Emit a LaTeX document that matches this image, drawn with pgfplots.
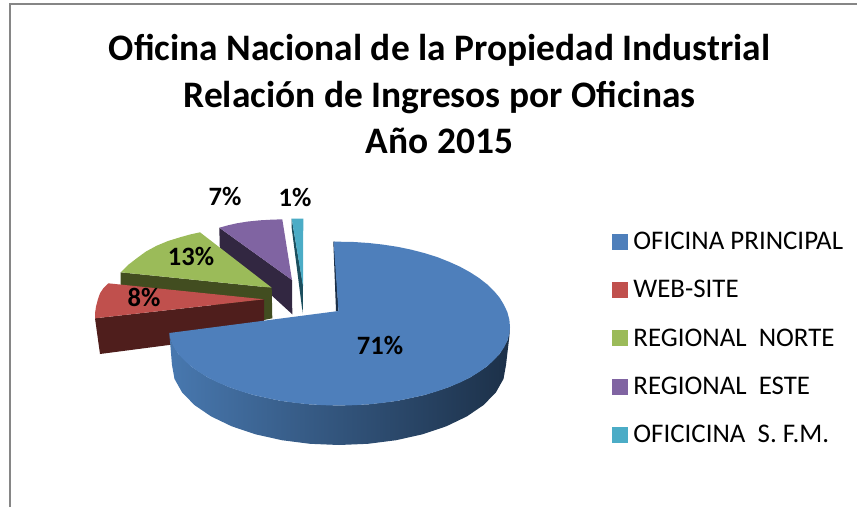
\documentclass[border=0pt]{standalone}
\usepackage{pgfplots}
\pgfplotsset{compat=1.18}
\usepackage{fontspec}
\setmainfont{Carlito}
\definecolor{cblue}{HTML}{4E7FBB}
\definecolor{cred}{HTML}{C0504D}
\definecolor{cgreen}{HTML}{9BBB59}
\definecolor{cpurple}{HTML}{8064A2}
\definecolor{ccyan}{HTML}{4BACC6}
\definecolor{dred}{HTML}{4F1E1C}
\definecolor{dgreen}{HTML}{424D20}
\definecolor{dpurple}{HTML}{322741}
\definecolor{dcyan}{HTML}{1C4F5E}
\definecolor{dblue}{HTML}{1C3048}
\definecolor{sideL}{HTML}{4878AF}
\definecolor{sideM}{HTML}{34567F}
\definecolor{frame}{HTML}{868686}
\begin{document}
\begin{tikzpicture}
\path[use as bounding box] (0,0) rectangle (857pt,507pt);
\begin{axis}[
  width=857pt, height=507pt, scale only axis,
  xmin=0, xmax=857, ymin=0, ymax=507, y dir=reverse,
  axis lines=none, clip=true,
  legend cell align=left,
  legend style={at={(axis cs:612,230)}, anchor=north west, draw=none, fill=none,
    font=\fontsize{26.9}{30}\selectfont, row sep=25.4pt, inner sep=0pt, outer sep=0pt,
    /tikz/every odd column/.style={column sep=4pt}},
  legend image code/.code={\fill[#1] (6pt,-7.5pt) rectangle (21pt,7.5pt);},
]
% frame
\addplot[frame, line width=1.6pt, forget plot] coordinates {(10,507) (10,4) (857,4)};
% cyan
\addplot[fill=dcyan, draw=none, forget plot] coordinates {(291.7,218.7) (291.7,228) (302.7,313.5) (303,285)} -- cycle;
\addplot[fill=ccyan, draw=none, forget plot] coordinates {(291.7,218.7) (303.3,218.7) (303,286)} -- cycle;
% purple
\addplot[fill=dpurple, draw=none, forget plot] coordinates {(219.3,227.7) (219.8,248) (292.3,314.3) (292,280)} -- cycle;
\addplot[fill=cpurple, draw=none, forget plot] coordinates {(219.3,227.7) (228,225.3) (236.7,223.3) (248,221.5) (260,220.3) (271,219.7) (282.3,219.3) (292,280)} -- cycle;
% green
\addplot[fill=dgreen, draw=none, forget plot] coordinates {(120.7,272.3) (120.7,285) (200,300) (264,320) (272.3,318.3) (271.7,287.7)} -- cycle;
\addplot[fill=cgreen, draw=none, forget plot] coordinates {(120.7,272.3) (128,265) (136.7,258.3) (146,251.5) (156.7,245.7) (168,241) (180,237.3) (190,234.5) (200,232.3) (271.7,287.7)} -- cycle;
% red
\addplot[fill=dred, draw=none, forget plot] coordinates {(95,318.3) (100,354) (169,345) (264,335) (264,299.3)} -- cycle;
\addplot[fill=cred, draw=none, forget plot] coordinates {(108.3,283.3) (103.5,288) (100,293.3) (97.7,300) (96,306.7) (95.2,312) (95,318.3) (264,299.3)} -- cycle;
% blue side
\addplot[shade, shading=axis, left color=sideL, middle color=sideM, right color=dblue, shading angle=90, draw=none, forget plot] coordinates {
 (169.3,333) (170.6,340.6) (178.3,353.8) (190.9,366.3) (208,377.5) (229.1,387.1) (253.5,395) (280.5,400.8) (309.3,404.3) (339,405.5)
 (368.7,404.3) (397.5,400.8) (424.5,395) (448.9,387.1) (470,377.5) (487.1,366.3) (499.7,353.8) (507.4,340.6) (510,327)
 (509.3,337) (506,365) (503.5,378.9) (495.9,392.4) (483.6,405) (466.9,416.4) (446.3,426.3) (422.5,434.3) (396.1,440.2) (368,443.8) (339,445)
 (310,443.8) (281.9,440.2) (255.5,434.3) (231.7,426.3) (211.1,416.4) (194.4,405) (182.1,392.4) (174.5,378.9) (172,365)} -- cycle;
% blue inner side
\addplot[fill=dblue, draw=none, forget plot] coordinates {(333.3,241.7) (336,311) (338.5,311) (334.5,241.7)} -- cycle;
% blue top
\addplot[fill=cblue, draw=none, forget plot] coordinates {
 (338.5,311) (333.6,241.7) (339,241.7) (353.9,242) (368.7,243) (383,244.6) (397.5,246.8) (411,249.6) (424.5,253.1) (437,257) (448.9,261.7) (460,266.7) (470,272.2) (479,278) (487.1,284.3) (494,291) (499.7,297.8) (504,305) (507.4,312.2) (509.4,320) (510,327)
 (509.4,334) (507.4,340.6) (504,347.5) (499.7,353.8) (494,360) (487.1,366.3) (479,372) (470,377.5) (460,382.5) (448.9,387.1) (437,391.3) (424.5,395) (411,398) (397.5,400.8) (383,402.8) (368.7,404.3) (354,405.2) (339,405.5)
 (324,405.2) (309.3,404.3) (295,402.8) (280.5,400.8) (267,398) (253.5,395) (241,391.3) (229.1,387.1) (218,382.5) (208,377.5) (199,372) (190.9,366.3) (184,360) (178.3,353.8) (174,347.5) (170.6,340.6) (169.3,333)} -- cycle;
% legend
\addlegendimage{cblue}\addlegendentry{OFICINA PRINCIPAL}
\addlegendimage{cred}\addlegendentry{WEB-SITE}
\addlegendimage{cgreen}\addlegendentry{REGIONAL\ \ NORTE}
\addlegendimage{cpurple}\addlegendentry{REGIONAL\ \ ESTE}
\addlegendimage{ccyan}\addlegendentry{OFICICINA\ \ S.\ F.M.}
% labels
\node[font=\fontsize{26.5}{28}\selectfont\bfseries] at (axis cs:380,345) {71\%};
\node[font=\fontsize{26.5}{28}\selectfont\bfseries] at (axis cs:191,256) {13\%};
\node[font=\fontsize{26.5}{28}\selectfont\bfseries] at (axis cs:144,297) {8\%};
\node[font=\fontsize{26.5}{28}\selectfont\bfseries] at (axis cs:225,196) {7\%};
\node[font=\fontsize{26.5}{28}\selectfont\bfseries] at (axis cs:295,197) {1\%};
% title
\node[font=\fontsize{37.4}{46.5}\selectfont\bfseries, align=center, anchor=center] at (axis cs:439.5,94)
 {Oficina Nacional de la Propiedad Industrial\\Relación de Ingresos por Oficinas\\Año 2015};
\end{axis}
\end{tikzpicture}
\end{document}
